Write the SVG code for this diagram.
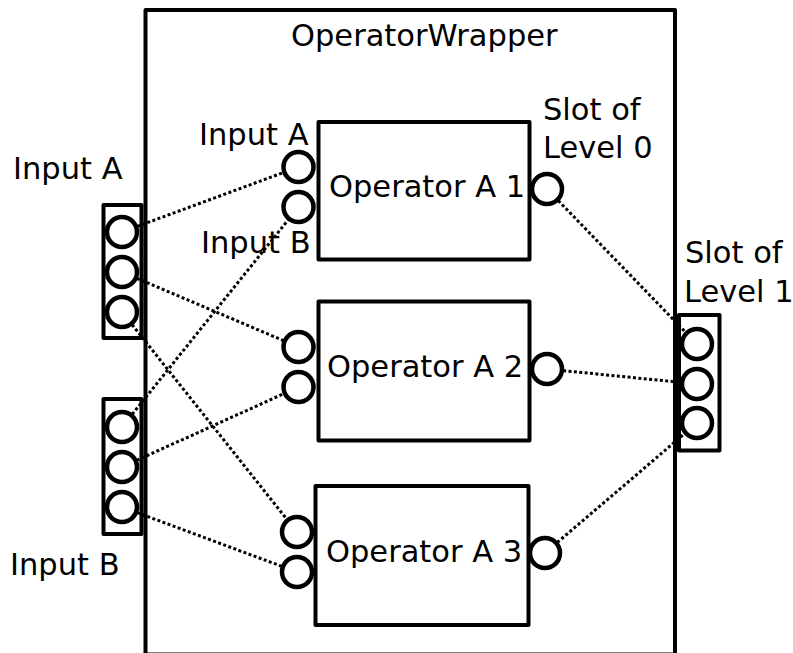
<svg xmlns="http://www.w3.org/2000/svg" width="793" height="653" viewBox="0 0 793 653">
<style>
.box{fill:none;stroke:#000;stroke-width:4;stroke-linejoin:round}
.op{fill:#fff;stroke:#000;stroke-width:4;stroke-linejoin:round}
.port{fill:#fff;stroke:#000;stroke-width:4.5}
.link{fill:none;stroke:#000;stroke-width:3;stroke-dasharray:3 2.4}
text{font-family:"DejaVu Sans","Liberation Sans",sans-serif;font-size:30.5px;fill:#000}
</style>
<rect width="793" height="653" fill="#fff"/>
<g id="wrapper">
<rect class="box" x="145.5" y="10" width="529.5" height="644.5"/>
<text x="291" y="46">OperatorWrapper</text>
</g>
<g id="op1">
<rect class="op" x="318.5" y="122" width="211" height="137.5"/>
<text x="329" y="197">Operator A 1</text>
</g>
<g id="op2">
<rect class="op" x="318.5" y="301.5" width="211" height="139"/>
<text x="327" y="377">Operator A 2</text>
</g>
<g id="op3">
<rect class="op" x="315.5" y="486" width="213" height="139"/>
<text x="326" y="562">Operator A 3</text>
</g>
<g id="inputA">
<rect class="box" x="103.5" y="205" width="38" height="133"/>
<text x="13" y="179">Input A</text>
</g>
<g id="inputB">
<rect class="box" x="103.5" y="399" width="38" height="135"/>
<text x="10" y="575">Input B</text>
</g>
<g id="level1">
<rect class="box" x="679" y="315" width="40.5" height="135.5"/>
<text x="685" y="263">Slot of</text>
<text x="684" y="302" font-size="30">Level 1</text>
</g>
<g id="connectors">
<line class="link" x1="122" y1="232" x2="298.5" y2="167"/>
<line class="link" x1="122" y1="272" x2="298.5" y2="347"/>
<line class="link" x1="122" y1="312" x2="297" y2="532"/>
<line class="link" x1="122" y1="427" x2="298.5" y2="207"/>
<line class="link" x1="122" y1="467" x2="298.5" y2="387"/>
<line class="link" x1="122" y1="507" x2="297" y2="572"/>
<line class="link" x1="547" y1="189" x2="697" y2="344"/>
<line class="link" x1="547" y1="369" x2="697" y2="384"/>
<line class="link" x1="545" y1="553" x2="697" y2="423"/>
</g>
<g id="ports">
<circle class="port" cx="122" cy="232" r="15"/>
<circle class="port" cx="122" cy="272" r="15"/>
<circle class="port" cx="122" cy="312" r="15"/>
<circle class="port" cx="122" cy="427" r="15"/>
<circle class="port" cx="122" cy="467" r="15"/>
<circle class="port" cx="122" cy="507" r="15"/>
<circle class="port" cx="298.5" cy="167" r="15"/>
<circle class="port" cx="298.5" cy="207" r="15"/>
<circle class="port" cx="298.5" cy="347" r="15"/>
<circle class="port" cx="298.5" cy="387" r="15"/>
<circle class="port" cx="297" cy="532" r="15"/>
<circle class="port" cx="297" cy="572" r="15"/>
<circle class="port" cx="547" cy="189" r="15"/>
<circle class="port" cx="547" cy="369" r="15"/>
<circle class="port" cx="545" cy="553" r="15"/>
<circle class="port" cx="697" cy="344" r="15"/>
<circle class="port" cx="697" cy="384" r="15"/>
<circle class="port" cx="697" cy="423" r="15"/>
</g>
<g id="labels">
<text x="199" y="145">Input A</text>
<text x="201" y="253">Input B</text>
<text x="543" y="120">Slot of</text>
<text x="543" y="158">Level 0</text>
</g>
</svg>
